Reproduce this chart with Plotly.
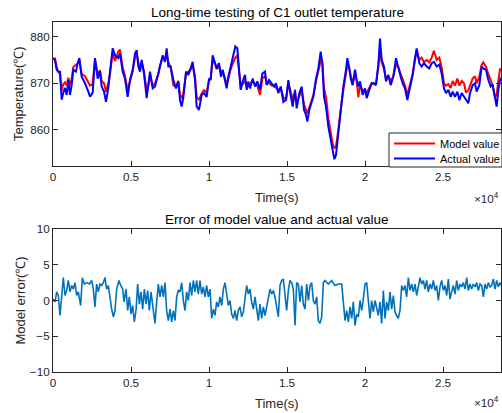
import plotly.graph_objects as go

# ---------------- data ----------------
time_s = [0, 128, 235, 342, 449, 556, 662, 769, 876, 983, 1090, 1197, 1303, 1474, 1560, 1688, 1838, 2051, 2265, 2372,
          2543, 2692, 2863, 3013, 3120, 3269, 3398, 3547, 3654, 3825, 3974, 4188, 4295, 4466, 4615, 4786, 4936, 5107,
          5257, 5363, 5470, 5577, 5684, 5833, 6004, 6111, 6218, 6389, 6539, 6752, 6859, 7030, 7180, 7286, 7393, 7543,
          7714, 7885, 8034, 8141, 8248, 8355, 8526, 8675, 8825, 8953, 9103, 9210, 9359, 9530, 9680, 9851, 10000, 10107,
          10234, 10384, 10491, 10641, 10769, 10876, 10983, 11133, 11240, 11389, 11560, 11688, 11817, 11945, 12030,
          12159, 12308, 12415, 12522, 12629, 12800, 12950, 13099, 13270, 13420, 13590, 13697, 13847, 14018, 14167,
          14295, 14445, 14594, 14765, 14936, 15086, 15193, 15364, 15513, 15620, 15791, 15941, 16090, 16218, 16304,
          16432, 16582, 16689, 16860, 17009, 17159, 17265, 17372, 17500, 17650, 17800, 17928, 18035, 18141, 18248,
          18355, 18505, 18612, 18782, 18868, 18996, 19082, 19210, 19359, 19466, 19573, 19680, 19851, 20000, 20107,
          20278, 20428, 20577, 20705, 20855, 20962, 21068, 21218, 21346, 21496, 21645, 21816, 21987, 22137, 22286,
          22415, 22564, 22714, 22885, 23056, 23205, 23312, 23483, 23633, 23782, 23953, 24124, 24274, 24423, 24594,
          24765, 24915, 25064, 25192, 25342, 25491, 25620, 25769, 25919, 26047, 26197, 26346, 26474, 26624, 26731,
          26902, 27051, 27158, 27329, 27479, 27585, 27756, 27906, 28056, 28184, 28333, 28440, 28547, 28654, 28782]

actual_value = [875.4, 875.0, 872.9, 872.5, 872.5, 866.5, 868.0, 869.0, 867.5, 870.7, 867.5, 869.6, 872.9, 872.5, 874.0,
                875.4, 871.4, 870.0, 868.2, 867.1, 868.0, 875.4, 871.0, 872.5, 869.3, 868.2, 866.0, 869.0, 872.5, 877.5,
                876.0, 875.4, 876.4, 872.5, 871.0, 867.1, 870.7, 872.9, 876.4, 877.1, 873.6, 872.5, 875.0, 872.1, 866.8,
                869.3, 872.5, 868.9, 869.3, 872.1, 873.6, 876.0, 874.6, 877.5, 873.6, 873.6, 870.7, 868.9, 870.4, 866.4,
                865.0, 867.0, 872.5, 871.8, 873.2, 874.6, 870.7, 865.0, 864.3, 867.5, 867.9, 867.1, 871.0, 870.7, 876.0,
                874.6, 873.2, 874.3, 871.4, 872.9, 871.0, 868.9, 871.4, 873.6, 875.4, 877.9, 877.5, 871.8, 868.6, 870.4,
                871.8, 868.6, 870.4, 868.9, 871.0, 869.3, 870.4, 868.6, 872.1, 872.5, 869.6, 870.7, 870.0, 869.3, 870.0,
                867.9, 869.3, 866.0, 866.4, 870.7, 868.2, 865.0, 868.6, 864.6, 867.9, 869.3, 864.3, 863.2, 861.8, 864.3,
                866.0, 867.1, 871.0, 873.2, 876.8, 874.3, 867.1, 865.0, 860.7, 857.9, 855.0, 853.7, 854.6, 857.9, 862.1,
                866.4, 869.3, 872.9, 875.4, 873.2, 871.0, 869.6, 872.9, 870.7, 869.3, 870.4, 867.5, 868.9, 866.8, 868.6,
                870.0, 870.0, 869.6, 874.0, 879.6, 875.0, 873.6, 870.4, 871.8, 869.6, 871.4, 875.4, 873.2, 871.4, 870.0,
                868.9, 866.4, 868.9, 871.8, 875.4, 877.5, 874.3, 873.6, 874.3, 873.6, 873.2, 874.3, 874.6, 873.6, 874.0,
                872.1, 868.9, 867.9, 868.6, 867.1, 868.2, 867.1, 868.2, 866.4, 867.9, 867.1, 866.4, 865.7, 867.9, 869.6,
                870.0, 868.2, 869.6, 873.6, 873.2, 872.9, 870.7, 869.3, 869.6, 866.4, 865.0, 868.6, 870.7, 871.4]

model_value = [875.2, 875.3, 873.5, 872.5, 872.0, 868.5, 869.8, 870.2, 869.5, 871.2, 869.5, 871.0, 873.5, 874.0, 874.2,
               875.0, 872.0, 871.5, 870.0, 869.5, 869.8, 875.0, 872.0, 872.8, 870.5, 870.0, 868.2, 870.0, 872.0, 876.5,
               874.8, 876.8, 877.2, 873.5, 871.5, 868.5, 870.5, 872.5, 875.5, 876.5, 874.5, 873.0, 874.5, 872.5, 868.5,
               869.5, 871.8, 869.5, 870.0, 872.0, 873.8, 875.5, 875.2, 876.5, 874.5, 873.5, 869.5, 869.3, 870.5, 867.5,
               866.8, 867.8, 872.0, 872.5, 873.0, 873.8, 871.5, 867.0, 866.5, 867.8, 868.5, 868.0, 870.5, 871.0, 875.0,
               874.2, 873.0, 873.8, 872.0, 872.5, 871.5, 870.0, 871.0, 873.0, 874.5, 875.5, 876.0, 872.0, 869.5, 869.8,
               870.5, 869.5, 869.5, 869.8, 870.5, 869.8, 869.5, 867.5, 871.0, 871.5, 870.0, 870.0, 869.5, 869.5, 869.0,
               868.5, 869.0, 867.0, 866.5, 870.0, 868.8, 866.5, 868.0, 866.0, 867.2, 868.5, 865.5, 864.5, 863.5, 864.8,
               866.5, 867.5, 870.5, 873.0, 874.8, 874.5, 869.0, 867.0, 862.5, 859.5, 857.0, 856.0, 856.5, 859.0, 862.5,
               866.0, 868.5, 872.0, 874.0, 873.0, 871.5, 870.0, 872.0, 870.5, 867.0, 869.5, 868.5, 868.5, 868.0, 869.0,
               870.0, 869.8, 870.0, 873.5, 877.5, 874.5, 873.0, 871.0, 871.5, 870.5, 871.5, 874.0, 873.5, 872.0, 871.0,
               869.5, 867.5, 869.5, 872.0, 875.0, 877.0, 875.0, 875.5, 874.5, 875.0, 874.5, 875.5, 877.0, 875.0, 875.5,
               873.5, 870.0, 869.5, 869.8, 869.0, 870.5, 869.5, 871.0, 869.5, 870.5, 870.0, 868.0, 868.5, 869.5, 871.0,
               871.5, 870.0, 871.5, 874.0, 874.5, 873.5, 872.0, 870.5, 869.5, 867.0, 867.5, 870.5, 873.0, 873.0]

err_time_s = [0, 128, 235, 342, 449, 556, 662, 769, 876, 983, 1090, 1197, 1303, 1410, 1517, 1624, 1774, 1880, 2009,
              2158, 2329, 2479, 2585, 2692, 2799, 2906, 3013, 3120, 3227, 3333, 3440, 3547, 3654, 3761, 3868, 3974,
              4081, 4231, 4338, 4466, 4551, 4680, 4786, 4893, 5000, 5107, 5214, 5321, 5427, 5534, 5641, 5748, 5855,
              5962, 6068, 6175, 6282, 6389, 6539, 6645, 6752, 6859, 6966, 7073, 7180, 7286, 7393, 7500, 7607, 7714,
              7821, 7927, 8034, 8141, 8248, 8355, 8462, 8569, 8675, 8782, 8889, 8996, 9103, 9210, 9316, 9423, 9530,
              9637, 9744, 9851, 9957, 10064, 10171, 10278, 10385, 10492, 10598, 10705, 10812, 10919, 11026, 11133,
              11239, 11346, 11453, 11560, 11667, 11774, 11880, 11987, 12094, 12201, 12308, 12415, 12522, 12628, 12735,
              12842, 12949, 13056, 13163, 13269, 13376, 13483, 13590, 13697, 13804, 13910, 14017, 14124, 14231,
              14338, 14445, 14552, 14658, 14765, 14872, 14979, 15086, 15193, 15299, 15406, 15513, 15620, 15727, 15834,
              15940, 16047, 16154, 16261, 16368, 16475, 16581, 16688, 16795, 16902, 17009, 17116, 17223, 17329, 17436,
              17650, 17864, 18077, 18291, 18505, 18611, 18718, 18825, 18932, 19039, 19146, 19252, 19359, 19466, 19573,
              19680, 19787, 19893, 20000, 20107, 20214, 20321, 20428, 20535, 20641, 20748, 20855, 20962, 21069, 21176,
              21282, 21389, 21496, 21603, 21710, 21817, 21923, 22030, 22137, 22244, 22351, 22458, 22564, 22671, 22778,
              22885, 22992, 23099, 23206, 23312, 23419, 23526, 23633, 23740, 23847, 23953, 24060, 24167, 24274, 24381,
              24488, 24595, 24701, 24808, 24915, 25022, 25129, 25236, 25342, 25449, 25556, 25663, 25770, 25877, 25983,
              26090, 26197, 26304, 26411, 26518, 26624, 26731, 26838, 26945, 27052, 27159, 27265, 27372, 27479, 27586,
              27693, 27800, 27906, 28013, 28120, 28227, 28334, 28441, 28547, 28654, 28761]

model_error = [0.2, -0.2, 1.2, 0.7, -2.1, 1.2, 3.2, 0.7, 1.4, 2.8, 1.2, 2.1, 1.6, 2.5, 0.7, 1.2, -0.7, 3.2, 2.3,
               2.5, 2.3, 2.8, 1.6, -0.9, 2.3, 1.2, 2.3, 2.1, 2.5, 3.2, 1.6, 2.1, 0.2, -1.2, -2.3, -1.4,
               1.6, 2.8, 2.1, 1.6, -0.2, 1.6, -1.4, 0.5, -1.9, -0.7, -3.0, -1.4, 2.3, -0.5, 1.2, -1.2, 1.6,
               -0.5, 1.4, -1.4, 1.2, -0.9, -3.2, -0.2, 2.3, 0.5, 2.1, 0.5, 2.5, -1.4, -2.8, -1.2, -3.0, -1.4,
               -2.8, 0.5, 1.4, 1.2, 2.5, 0.0, -1.4, 1.2, 0.0, 2.5, 0.7, 2.8, 1.2, 2.8, 0.9, 2.8, 0.9,
               1.9, 0.5, 2.1, 0.5, 1.6, -2.5, -1.2, -2.1, -0.2, -0.9, 0.5, -0.7, 1.6, 2.5, 0.9,
               -0.7, 0.0, -1.9, -2.5, -1.4, -2.8, -1.4, -0.9, -2.3, -1.6, 0.0, 2.1, 0.9, 1.6, -0.2,
               -1.2, 0.5, -0.9, -2.8, -0.5, -2.5, -0.9, -2.1, -0.9, 0.2, 1.6, 0.9, 1.4, 0.5,
               -1.2, -2.3, 2.1, 2.8, 3.0, 0.5, -1.4, 1.4, 2.8, 2.5, 1.6, -3.5, 2.5, 2.3, -0.2,
               2.1, -0.5, -1.2, 2.3, 0.0, 2.1, 2.5, 0.0, -0.5, 0.5, -2.8, -3.2, -2.3, 2.5, 2.8,
               2.3, 2.8, 2.1, 2.3, 2.3, -0.2, -2.8, -1.4, -3.0, -0.9, -2.5, -0.2, -3.5, -1.9, -2.3,
               0.0, -1.4, 0.2, 2.3, 2.5, -0.2, -2.5, 0.0, -1.6, 0.0, -0.9, -2.1, -0.2, -3.2, 1.4,
               -2.5, -0.2, -1.4, 1.2, -1.2, 0.7, -1.6, -2.1, -2.5, -1.4, 2.1, 1.4, 2.1, 0.5, 3.2,
               1.4, 2.3, 1.2, 2.3, 0.7, 2.1, 3.2, 2.3, 2.8, 1.6, 2.8, 1.2, 2.3, 1.6, 2.8,
               1.4, 2.1, 0.0, 1.9, 2.8, 1.4, 2.1, 0.7, 3.0, 0.2, 1.2, 2.1, 0.9, 2.8, 1.4,
               2.3, 1.9, 2.5, 1.6, 3.2, 1.4, 2.3, 1.6, 2.3, 1.9, 2.5, 1.4, 2.3, 2.1, 0.5,
               2.3, 1.6, 2.5, 1.9, 2.1, 3.0, 1.6, 2.8, 1.9, 2.5, 2.1]

series_names = ["Model value", "Actual value"]
series_colors = ["#FF0000", "#0000FF"]
x_tick_vals = [0, 5000, 10000, 15000, 20000, 25000]
x_tick_text = ["0", "0.5", "1", "1.5", "2", "2.5"]
temp_tick_vals = [860, 870, 880]
err_tick_vals = [-10, -5, 0, 5, 10]

# ---------------- layout constants ----------------
W, H = 502, 413
ML, MR, MT, MB = 53, 1, 22, 41
PLOT_W = W - ML - MR
PLOT_H = H - MT - MB
TOP_BOTTOM_PX = 166
BOT_TOP_PX = 229
top_dom = [(H - MB - TOP_BOTTOM_PX) / PLOT_H, 1.0]
bot_dom = [0.0, (H - MB - BOT_TOP_PX) / PLOT_H]

FONT = "Liberation Sans, Arial, Helvetica, sans-serif"
AX_COL = "#262626"
X_MAX = 28718


def px_x(px):
    return (px - ML) / PLOT_W


def px_y(py):
    return (H - MB - py) / PLOT_H


fig = go.Figure()
fig.add_trace(go.Scatter(x=time_s, y=model_value, mode="lines", name=series_names[0],
                         line=dict(color=series_colors[0], width=2), xaxis="x", yaxis="y", showlegend=False))
fig.add_trace(go.Scatter(x=time_s, y=actual_value, mode="lines", name=series_names[1],
                         line=dict(color=series_colors[1], width=2), xaxis="x", yaxis="y", showlegend=False))
fig.add_trace(go.Scatter(x=err_time_s, y=model_error, mode="lines", name="Model error",
                         line=dict(color="#0072BD", width=1.6), xaxis="x2", yaxis="y2",
                         showlegend=False))

axis_common = dict(showline=True, linecolor=AX_COL, linewidth=1, mirror="ticks",
                   ticks="inside", ticklen=5, tickcolor=AX_COL, tickwidth=1,
                   showgrid=False, zeroline=False,
                   tickfont=dict(family=FONT, size=11.7, color=AX_COL))

fig.update_layout(
    width=W, height=H,
    margin=dict(l=ML, r=MR, t=MT, b=MB),
    paper_bgcolor="white", plot_bgcolor="white",
    xaxis=dict(domain=[0, 1], range=[0, X_MAX], tickvals=x_tick_vals, ticktext=x_tick_text,
               anchor="y", **axis_common),
    yaxis=dict(domain=top_dom, range=[852.25, 883.15], tickvals=temp_tick_vals,
               anchor="x", **axis_common),
    xaxis2=dict(domain=[0, 1], range=[0, X_MAX], tickvals=x_tick_vals, ticktext=x_tick_text,
                anchor="y2", **axis_common),
    yaxis2=dict(domain=bot_dom, range=[-10, 10], tickvals=err_tick_vals,
                anchor="x2", **axis_common),
    showlegend=False,
)


def ann(text, x, y, xanchor="center", yanchor="middle", xshift=0, yshift=0, size=13, angle=0, color="#000000"):
    fig.add_annotation(text=text, xref="paper", yref="paper", x=x, y=y, xanchor=xanchor, yanchor=yanchor,
                       xshift=xshift, yshift=yshift, showarrow=False, textangle=angle,
                       font=dict(family=FONT, size=size, color=color))


# titles
ann("Long-time testing of C1 outlet temperature", 0.5, 1.0, yshift=9.5, size=13.5)
ann("Error of model value and actual value", 0.5, bot_dom[1], yshift=10, size=13.5)
# x labels
ann("Time(s)", 0.5, top_dom[0], yshift=-31.5, size=13, color=AX_COL)
ann("Time(s)", 0.5, 0.0, yshift=-31.5, size=13, color=AX_COL)
# exponent labels
ann("×10<sup>4</sup>", 1.0, top_dom[0], xanchor="right", yshift=-32, size=11.7, color=AX_COL)
ann("×10<sup>4</sup>", 1.0, 0.0, xanchor="right", yshift=-30, size=11.7, color=AX_COL)
# y labels
ann("Temperature(℃)", 0.0, (top_dom[0] + top_dom[1]) / 2, xshift=-35, size=13, angle=-90, color=AX_COL)
ann("Model error(℃)", 0.0, (bot_dom[0] + bot_dom[1]) / 2, xshift=-33, size=13, angle=-90, color=AX_COL)

# legend box (MATLAB style, lower right of the top axes)
LEG_L, LEG_R, LEG_T, LEG_B = 389, 502, 133, 167
fig.add_shape(type="rect", xref="paper", yref="paper", layer="above",
              x0=px_x(LEG_L), x1=px_x(LEG_R), y0=px_y(LEG_B), y1=px_y(LEG_T),
              fillcolor="white", line=dict(color=AX_COL, width=1))
for i, (nm, col) in enumerate(zip(series_names, series_colors)):
    row_y = px_y(143.5 + 15 * i)
    fig.add_shape(type="line", xref="paper", yref="paper", layer="above",
                  x0=px_x(394), x1=px_x(435), y0=row_y, y1=row_y,
                  line=dict(color=col, width=2))
    ann(nm, px_x(438), row_y, xanchor="left", size=11, color="#000000")

fig.write_html("out.html", config={"displayModeBar": False},
               post_script="document.body.style.margin='0';document.body.style.overflow='hidden';")
